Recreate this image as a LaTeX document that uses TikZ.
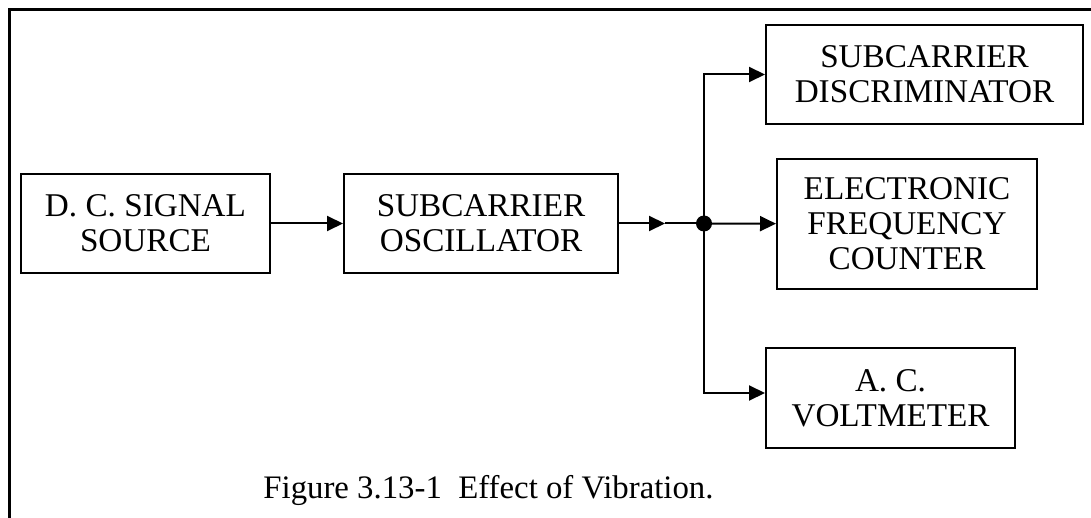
\documentclass[tikz,border=0pt]{standalone}
\usepackage{fontspec}
\setmainfont{Liberation Serif}
\usetikzlibrary{arrows.meta}

\begin{document}
\begin{tikzpicture}[x=0.5pt, y=-0.5pt, inner sep=0pt, font=\fontsize{16.6}{17.5}\selectfont,
    blk/.style={draw, line width=1pt, align=center},
    arr/.style={line width=1pt, -{Triangle[length=8pt, width=7.5pt]}}]
    \useasboundingbox (0,0) rectangle (1091,518);
    \draw[line width=1.5pt] (9,518) -- (9,10) -- (1091,10);
    \node[blk, minimum width=124.5pt, minimum height=49.5pt] (src) at (145.5,223.5) {D. C. SIGNAL\\SOURCE};
    \node[blk, minimum width=137pt, minimum height=49.5pt] (osc) at (481,223.5) {SUBCARRIER\\OSCILLATOR};
    \node[blk, minimum width=158.5pt, minimum height=49.5pt] (disc) at (924.5,74.5) {SUBCARRIER\\DISCRIMINATOR};
    \node[blk, minimum width=130pt, minimum height=65pt] (count) at (907,224) {ELECTRONIC\\FREQUENCY\\COUNTER};
    \node[blk, minimum width=124.5pt, minimum height=50pt] (volt) at (890.5,398) {A. C.\\VOLTMETER};
    \coordinate (mid) at (665,223.5);
    \draw[arr] (src) -- (osc);
    \draw[arr] (osc.east) -- (mid);
    \draw[line width=1pt] (mid) -- (704,223.5);
    \draw[arr] (704,223.5) -- (count);
    \draw[arr] (704,223.5) |- (disc.west);
    \draw[arr] (704,223.5) |- ([yshift=2.5pt]volt.west);
    \node[circle, fill, minimum size=8pt] (jn) at (704,223.5) {};
    \node[anchor=base west, font=\fontsize{16.4}{18}\selectfont] (cap) at (263,498) {Figure 3.13-1\ \ Effect of Vibration.};
\end{tikzpicture}
\end{document}
